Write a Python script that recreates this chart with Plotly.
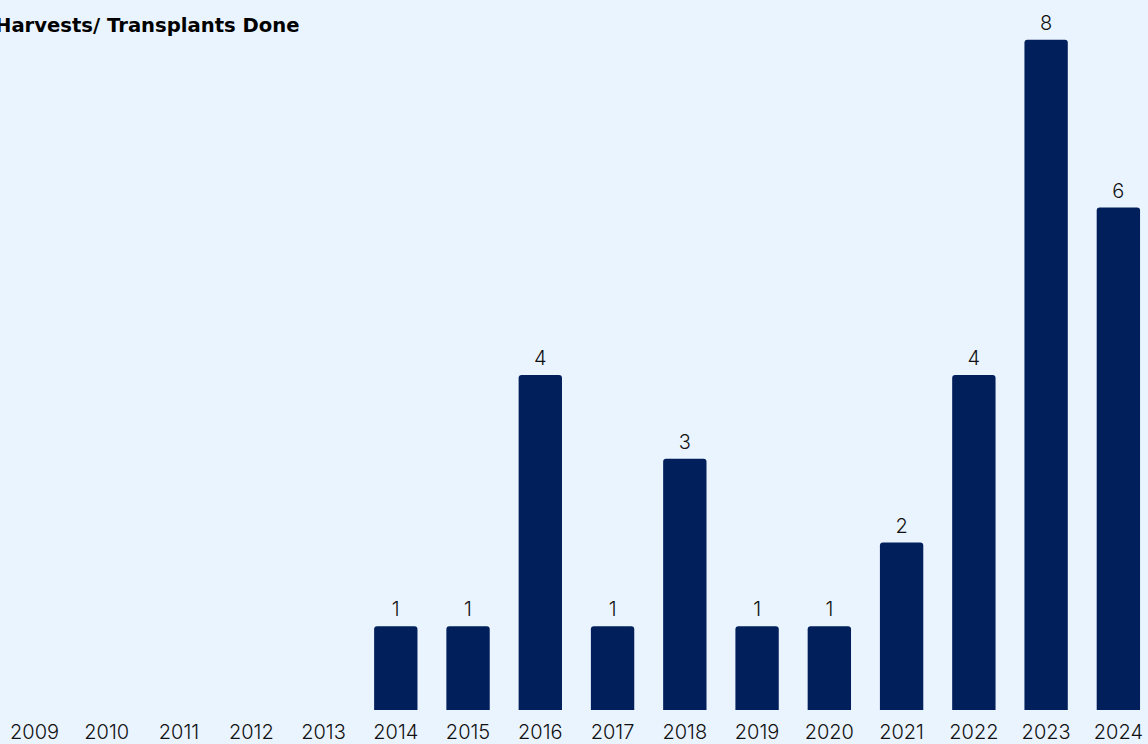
import plotly.graph_objects as go

# Harvests / transplants completed per year
years = [str(y) for y in range(2009, 2025)]
counts = [0, 0, 0, 0, 0, 1, 1, 4, 1, 3, 1, 1, 2, 4, 8, 6]

BG = "#EAF4FF"
BAR = "#001F5B"
FONT = "Inter"
TITLE_FONT = "DejaVu Sans"

label_x = [yr for yr, c in zip(years, counts) if c > 0]
label_y = [c for c in counts if c > 0]

fig = go.Figure()
fig.add_trace(
    go.Bar(
        x=years,
        y=counts,
        marker=dict(color=BAR, cornerradius=3, line=dict(width=0)),
        width=0.6,
        hoverinfo="x+y",
    )
)

# value labels above each non-empty bar (invisible marker pads the text upward)
fig.add_trace(
    go.Scatter(
        x=label_x,
        y=label_y,
        mode="markers+text",
        text=[str(v) for v in label_y],
        textposition="top center",
        textfont=dict(family=FONT, size=20, color="#111111", weight=300),
        marker=dict(size=6, opacity=0),
        cliponaxis=False,
        hoverinfo="skip",
    )
)

fig.update_layout(
    width=1148,
    height=744,
    paper_bgcolor=BG,
    plot_bgcolor=BG,
    margin=dict(l=0, r=0, t=0, b=32),
    showlegend=False,
    font=dict(family=FONT, size=20, color="#111111"),
    xaxis=dict(
        type="category",
        categoryorder="array",
        categoryarray=years,
        range=[-0.4775, 15.41],
        showgrid=False,
        showline=False,
        zeroline=False,
        ticks="",
        ticklabelstandoff=8,
        tickfont=dict(family=FONT, size=20, color="#111111", weight=300),
    ),
    yaxis=dict(
        range=[0, 8.476],
        showgrid=False,
        showline=False,
        zeroline=False,
        showticklabels=False,
        ticks="",
    ),
)

fig.add_annotation(
    text="<b>Harvests/ Transplants Done</b>",
    xref="paper",
    yref="paper",
    x=-0.006,
    y=0.9635,
    xanchor="left",
    yanchor="middle",
    showarrow=False,
    font=dict(family=TITLE_FONT, size=19.6, color="#000000"),
)

fig.write_html("out.html")
